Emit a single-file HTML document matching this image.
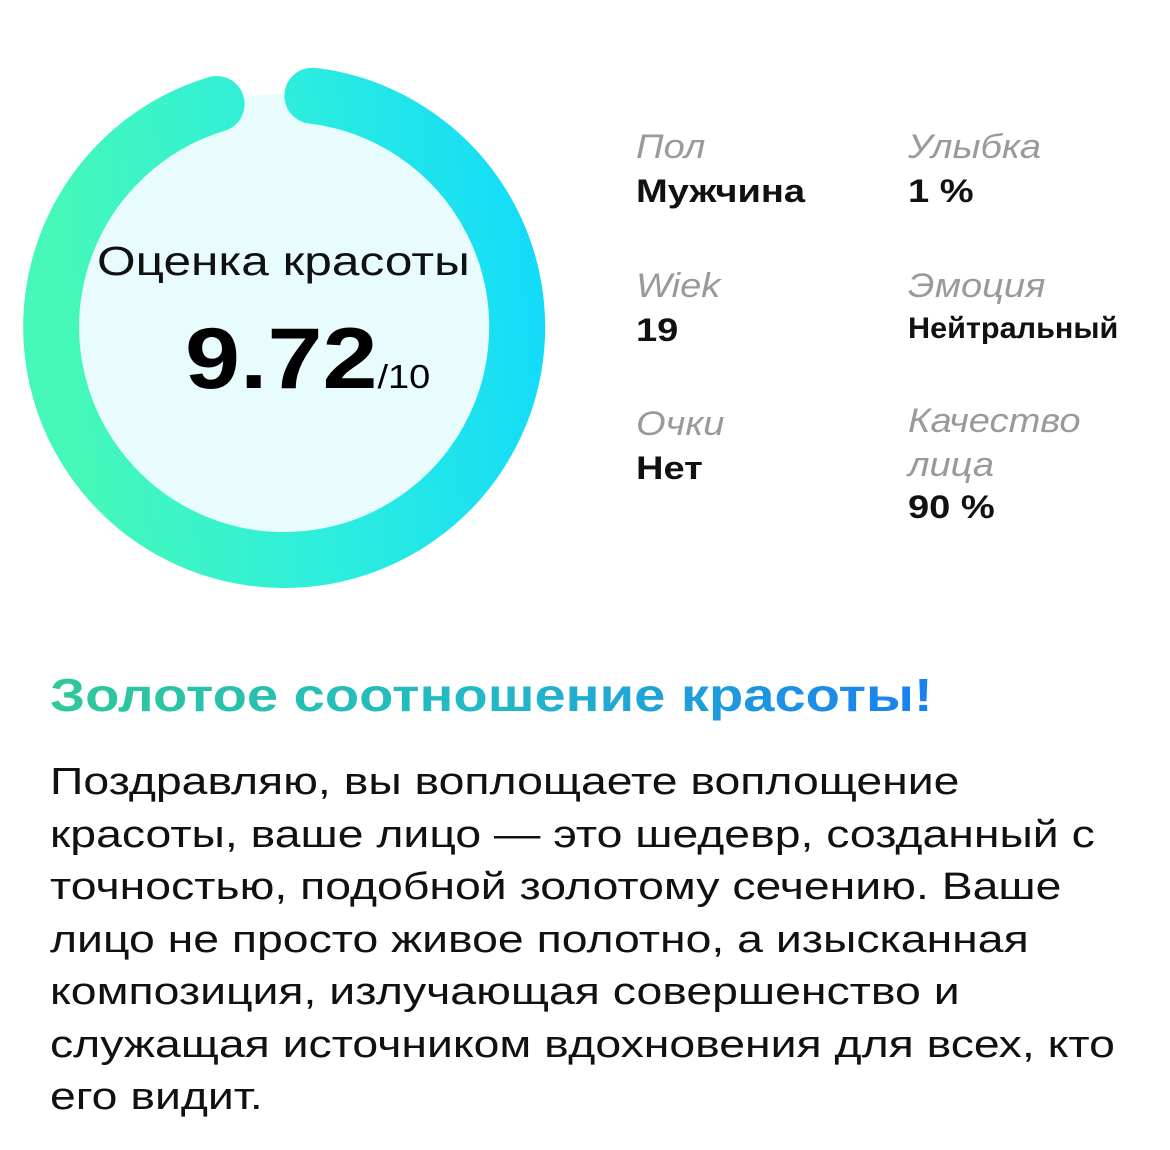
<!DOCTYPE html>
<html><head><meta charset="utf-8"><style>
body{margin:0;width:1170px;height:1150px;background:#fff;position:relative;font-family:"Liberation Sans","DejaVu Sans",sans-serif;overflow:hidden}
.a{position:absolute;white-space:nowrap;transform-origin:0 0}
.l{font-style:italic;color:#9a9a9a;font-size:34px;transform:scaleX(1.12)}
.v{font-weight:bold;color:#111;font-size:32px;transform:scaleX(1.19)}
</style></head><body>
<svg class="a" style="left:0;top:0" width="580" height="620">
<defs><linearGradient id="g" x1="0" y1="0.2" x2="1" y2="0.1"><stop offset="0" stop-color="#45f8b8"/><stop offset="0.5" stop-color="#2eeedc"/><stop offset="1" stop-color="#14dcf8"/></linearGradient></defs>
<circle cx="284" cy="327" r="233" fill="#e8fcfd"/>
<path d="M312.4 95.7 A233 233 0 1 1 216.6 104" fill="none" stroke="url(#g)" stroke-width="56" stroke-linecap="round"/>
</svg>
<div class="a" style="left:97px;top:238px;font-size:41px;color:#111;transform:scaleX(1.21)">Оценка красоты</div>
<div class="a" style="left:185px;top:310px;font-size:86px;font-weight:bold;color:#000;transform:scaleX(1.15)">9.72<span style="font-size:33px;font-weight:normal">/10</span></div>
<div class="a l" style="left:636px;top:128px">Пол</div>
<div class="a v" style="left:636px;top:173px">Мужчина</div>
<div class="a l" style="left:908px;top:128px">Улыбка</div>
<div class="a v" style="left:908px;top:173px">1 %</div>
<div class="a l" style="left:636px;top:267px">Wiek</div>
<div class="a v" style="left:636px;top:312px">19</div>
<div class="a l" style="left:908px;top:267px">Эмоция</div>
<div class="a v" style="left:908px;top:312px;font-size:30px;transform:scaleX(1.02)">Нейтральный</div>
<div class="a l" style="left:636px;top:405px">Очки</div>
<div class="a v" style="left:636px;top:450px">Нет</div>
<div class="a l" style="left:908px;top:399px;line-height:44px">Качество<br>лица</div>
<div class="a v" style="left:908px;top:489px">90 %</div>
<div class="a" style="left:50px;top:668px;font-size:46px;font-weight:bold;transform:scaleX(1.22);background:linear-gradient(90deg,#2ec89a,#22b8c8 50%,#1a7ff0);-webkit-background-clip:text;background-clip:text;color:transparent">Золотое соотношение красоты!</div>
<div class="a" style="left:50px;top:756px;font-size:38px;line-height:52.5px;color:#111;transform:scaleX(1.22)">Поздравляю, вы воплощаете воплощение<br>красоты, ваше лицо — это шедевр, созданный с<br>точностью, подобной золотому сечению. Ваше<br>лицо не просто живое полотно, а изысканная<br>композиция, излучающая совершенство и<br>служащая источником вдохновения для всех, кто<br>его видит.</div>
</body></html>
